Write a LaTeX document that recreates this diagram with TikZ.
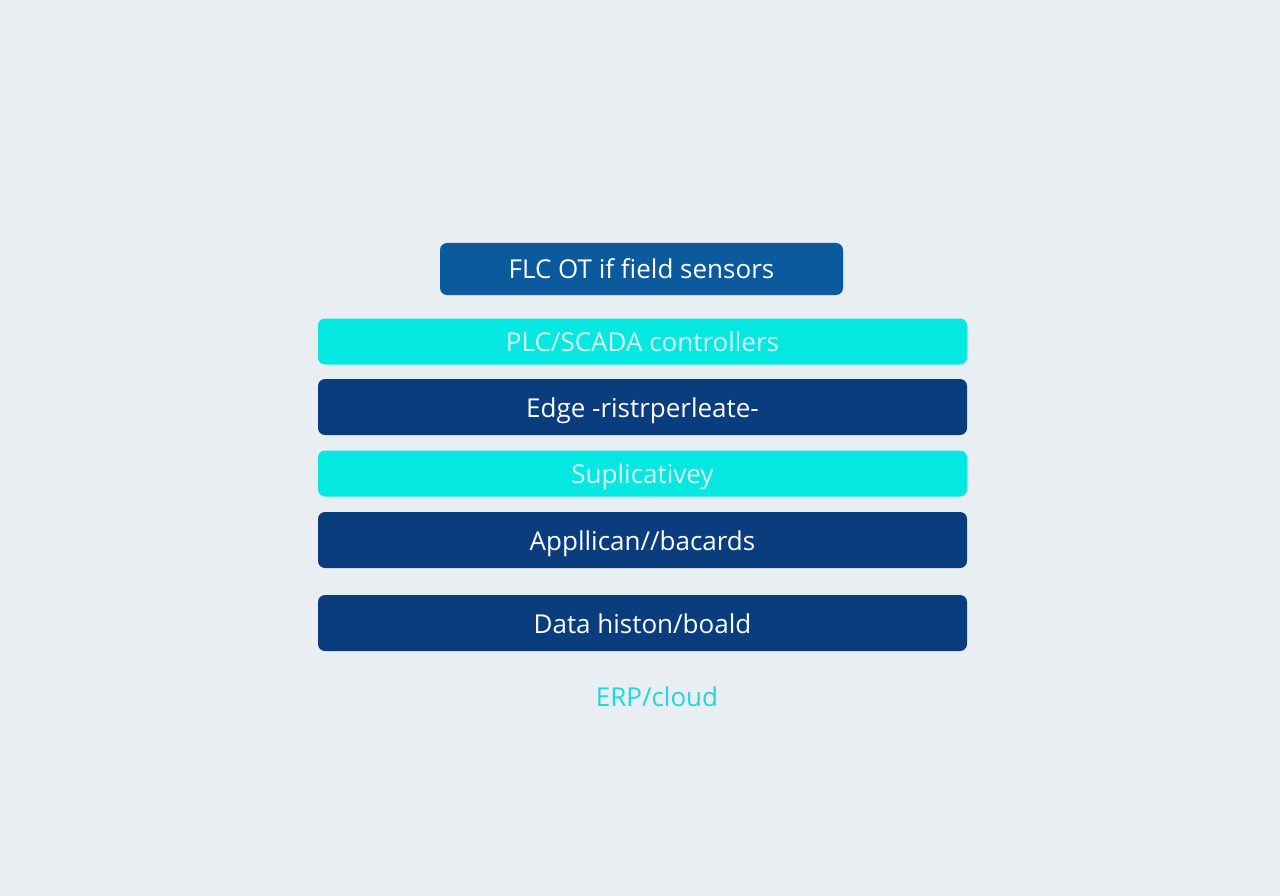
\documentclass[tikz,border=0pt]{standalone}
\usepackage{fontspec}
\setmainfont{Open Sans}
\usepackage{tikz}

\definecolor{bgcol}{HTML}{E8EEF2}
\definecolor{midblue}{HTML}{0B5A9E}
\definecolor{deepblue}{HTML}{0A3D7E}
\definecolor{aqua}{HTML}{05E8E2}
\definecolor{aquatext}{HTML}{DDFAFA}
\definecolor{cloudcol}{HTML}{22D6DE}

\begin{document}
\begin{tikzpicture}[x=1pt, y=-1pt,
	layer/.style={rounded corners=7pt, inner sep=0pt, minimum width=649pt, text height=20pt, text depth=0pt, font=\fontsize{26}{30}\selectfont},
	darklayer/.style={layer, fill=deepblue, text=white, minimum height=56pt},
	aqualayer/.style={layer, fill=aqua, text=aquatext, minimum height=46pt}]
	\fill[bgcol] (0,0) rectangle (1280,896);

	\node[layer, fill=midblue, text=white, minimum width=403pt, minimum height=52pt] (sensors) at (641.5,269) {FLC OT if field sensors};
	\node[aqualayer] (plc) at (642.5,341.5) {PLC/SCADA controllers};
	\node[darklayer] (edge) at (642.5,407) {Edge -ristrperleate-};
	\node[aqualayer] (suppl) at (642.5,473.5) {Suplicativey};
	\node[darklayer] (apps) at (642.5,540) {Appllican//bacards};
	\node[darklayer] (historian) at (642.5,623) {Data histon/boald};
	\node[text=cloudcol, font=\fontsize{26}{30}\selectfont] (cloud) at (657,697) {ERP/cloud};

\end{tikzpicture}
\end{document}
